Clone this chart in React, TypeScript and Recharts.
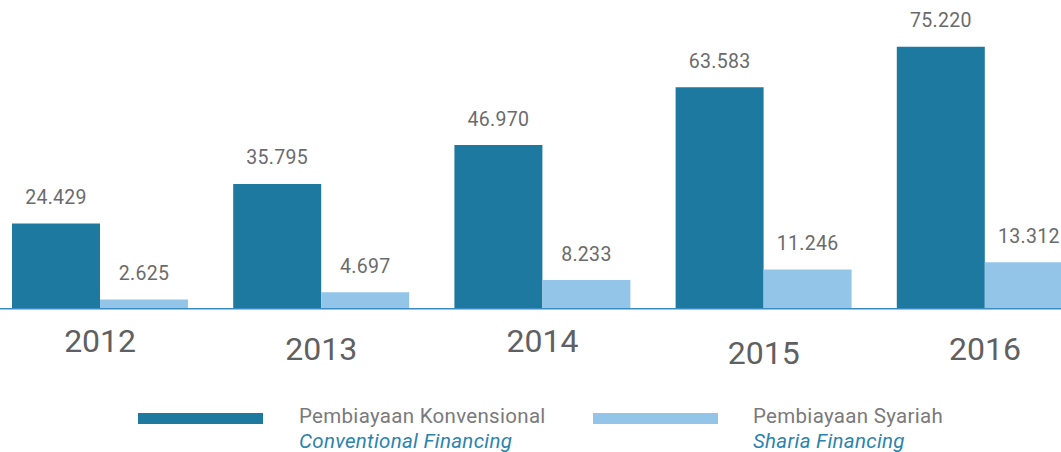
import React from "react";
import { BarChart, Bar, XAxis, YAxis, LabelList } from "recharts";

const years = ["2012", "2013", "2014", "2015", "2016"];
const conventional = [24429, 35795, 46970, 63583, 75220];
const sharia = [2625, 4697, 8233, 11246, 13312];
const legendLabels = [
  { id: "Pembiayaan Konvensional", en: "Conventional Financing" },
  { id: "Pembiayaan Syariah", en: "Sharia Financing" },
];

const data = years.map((y, i) => ({ year: y, conv: conventional[i], sharia: sharia[i] }));

const DARK = "#1e79a1";
const LIGHT = "#93c5e9";
const FONT = "Roboto, 'DejaVu Sans', sans-serif";
const YEAR_DY = [43, 51.3, 43.3, 55.3, 51.3];

const fmt = (v: number) => String(v).replace(/\B(?=(\d{3})+(?!\d))/g, ".");

const YearTick = (props: any) => {
  const { x, y, payload, index } = props;
  return (
    <text
      x={x + 0.5}
      y={y + YEAR_DY[index]}
      textAnchor="middle"
      fontFamily={FONT}
      fontSize={32}
      fill="#5f6062"
    >
      {payload.value}
    </text>
  );
};

const ValueLabel = (props: any) => {
  const { x, y, width, value } = props;
  return (
    <text
      x={x + width / 2}
      y={y - 19.5}
      textAnchor="middle"
      fontFamily={FONT}
      fontSize={19.5}
      fill="#6b6b6d"
      letterSpacing={0.3}
    >
      {fmt(value)}
    </text>
  );
};

const LegendItem = ({ left, textLeft, color, label }: any) => (
  <>
    <div
      style={{
        position: "absolute",
        left,
        top: 413,
        width: 125,
        height: 11,
        background: color,
      }}
    />
    <div
      style={{
        position: "absolute",
        left: textLeft,
        top: 404,
        fontFamily: FONT,
        fontSize: 20.5,
        lineHeight: "25px",
        letterSpacing: 0.3,
        whiteSpace: "nowrap",
      }}
    >
      <div style={{ color: "#7a7a7c" }}>{label.id}</div>
      <div style={{ color: "#2a84ae", fontStyle: "italic" }}>{label.en}</div>
    </div>
  </>
);

export default function App() {
  return (
    <div
      style={{
        position: "absolute",
        left: 0,
        top: 0,
        width: 1061,
        height: 452,
        overflow: "hidden",
        background: "#fff",
      }}
    >
      <div style={{ position: "absolute", left: -11, top: 0 }}>
        <BarChart
          width={1106}
          height={452}
          data={data}
          margin={{ top: 30, right: 0, bottom: 0, left: 0 }}
          barGap={0}
          barSize={88}
        >
          <XAxis
            dataKey="year"
            height={143.3}
            tickLine={false}
            tickSize={0}
            tickMargin={0}
            axisLine={{ stroke: "#3a8cc0", strokeWidth: 1.5 }}
            tick={<YearTick />}
            interval={0}
          />
          <YAxis hide domain={[0, 80000]} />
          <Bar dataKey="conv" fill={DARK} isAnimationActive={false}>
            <LabelList dataKey="conv" content={<ValueLabel />} />
          </Bar>
          <Bar dataKey="sharia" fill={LIGHT} isAnimationActive={false}>
            <LabelList dataKey="sharia" content={<ValueLabel />} />
          </Bar>
        </BarChart>
      </div>
      <LegendItem left={138} textLeft={299} color={DARK} label={legendLabels[0]} />
      <LegendItem left={593} textLeft={753} color={LIGHT} label={legendLabels[1]} />
    </div>
  );
}
